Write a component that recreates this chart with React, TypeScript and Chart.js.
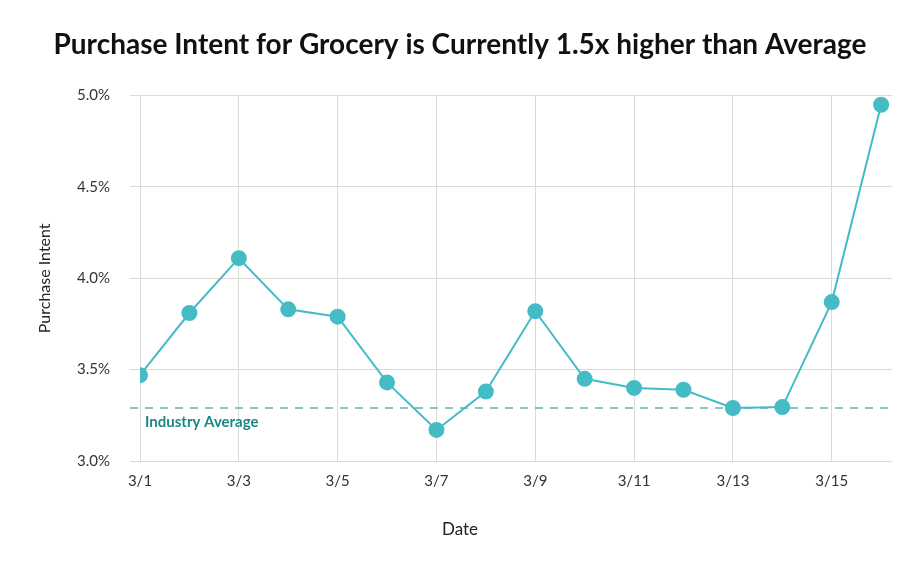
import React, { useEffect, useRef } from "react";
import { Chart, registerables } from "chart.js";

Chart.register(...registerables);

const dates = ["3/1", "3/2", "3/3", "3/4", "3/5", "3/6", "3/7", "3/8", "3/9", "3/10", "3/11", "3/12", "3/13", "3/14", "3/15", "3/16"];
const purchaseIntent = [3.47, 3.81, 4.11, 3.83, 3.79, 3.43, 3.17, 3.38, 3.82, 3.45, 3.40, 3.39, 3.29, 3.295, 3.87, 4.95];
const industryAverage = 3.29;
const industryLabel = "Industry Average";
const yTicks = [3.0, 3.5, 4.0, 4.5, 5.0];
const chartTitle = "Purchase Intent for Grocery is Currently 1.5x higher than Average";
const xTitle = "Date";

const FONT = "Lato, 'Open Sans', sans-serif";
const LINE_COLOR = "#45bcc5";
const GRID = "#dadada";

const avgPlugin = {
  id: "avgLine",
  beforeDatasetsDraw(chart: any) {
    const { ctx, chartArea, scales } = chart;
    const y = scales.y.getPixelForValue(industryAverage);
    ctx.save();
    ctx.strokeStyle = "#5fb4b5";
    ctx.lineWidth = 1.5;
    ctx.setLineDash([8, 7]);
    ctx.beginPath();
    ctx.moveTo(chartArea.left - 10, y);
    ctx.lineTo(chartArea.right, y);
    ctx.stroke();
    ctx.setLineDash([]);
    ctx.fillStyle = "#1d8787";
    ctx.font = `bold 15px ${FONT}`;
    ctx.textAlign = "left";
    ctx.textBaseline = "middle";
    ctx.fillText(industryLabel, chartArea.left + 5, y + 14);
    ctx.restore();
  },
  afterDraw(chart: any) {
    const { ctx, width } = chart;
    ctx.save();
    ctx.fillStyle = "#222";
    ctx.font = `17px ${FONT}`;
    ctx.textAlign = "center";
    ctx.textBaseline = "middle";
    ctx.fillText(xTitle, width / 2, 530);
    ctx.restore();
  },
};

export default function App() {
  const ref = useRef<HTMLCanvasElement>(null);
  useEffect(() => {
    if (!ref.current) return;
    const chart = new Chart(ref.current, {
      type: "line",
      data: {
        datasets: [
          {
            label: "Purchase Intent",
            data: purchaseIntent.map((v, i) => ({ x: i, y: v })),
            borderColor: LINE_COLOR,
            backgroundColor: LINE_COLOR,
            pointBackgroundColor: LINE_COLOR,
            pointBorderColor: LINE_COLOR,
            pointRadius: 7,
            pointHoverRadius: 7,
            borderWidth: 2,
            tension: 0,
          },
        ],
      },
      options: {
        responsive: false,
        animation: false,
        layout: { padding: { left: 28, right: 28, top: 0, bottom: 0 } },
        plugins: {
          legend: { display: false },
          tooltip: { enabled: false },
          title: {
            display: true,
            text: chartTitle,
            color: "#111",
            font: { family: FONT, size: 28, weight: "bold" },
            padding: { top: 28, bottom: 34 },
          },
        },
        scales: {
          x: {
            type: "linear",
            min: 0,
            max: 15.22,
            afterFit: (s: any) => {
              s.height = 108;
            },
            ticks: {
              stepSize: 2,
              includeBounds: false,
              color: "#333",
              font: { family: FONT, size: 15 },
              padding: 11,
              maxRotation: 0,
              callback: (v: any) => (Number.isInteger(v) && dates[v] ? dates[v] : ""),
            },
            grid: { color: GRID, drawTicks: false, lineWidth: 1 },
            border: { display: false },
          },
          y: {
            min: 3.0,
            max: 5.0,
            afterFit: (s: any) => {
              s.width = 112;
            },
            afterBuildTicks: (s: any) => {
              s.ticks = yTicks.map((v) => ({ value: v }));
            },
            ticks: {
              color: "#333",
              font: { family: FONT, size: 15 },
              padding: 20,
              callback: (v: any) => Number(v).toFixed(1) + "%",
            },
            grid: { color: GRID, drawTicks: true, tickLength: 10, lineWidth: 1 },
            border: { display: false },
            title: {
              display: true,
              text: "Purchase Intent",
              color: "#222",
              font: { family: FONT, size: 16 },
              padding: { top: 7, bottom: 4 },
            },
          },
        },
      },
      plugins: [avgPlugin],
    });
    return () => chart.destroy();
  }, []);
  return (
    <div style={{ position: "absolute", left: 0, top: 0, width: 920, height: 569, background: "#fff" }}>
      <canvas ref={ref} width={920} height={569} style={{ display: "block" }} />
    </div>
  );
}
